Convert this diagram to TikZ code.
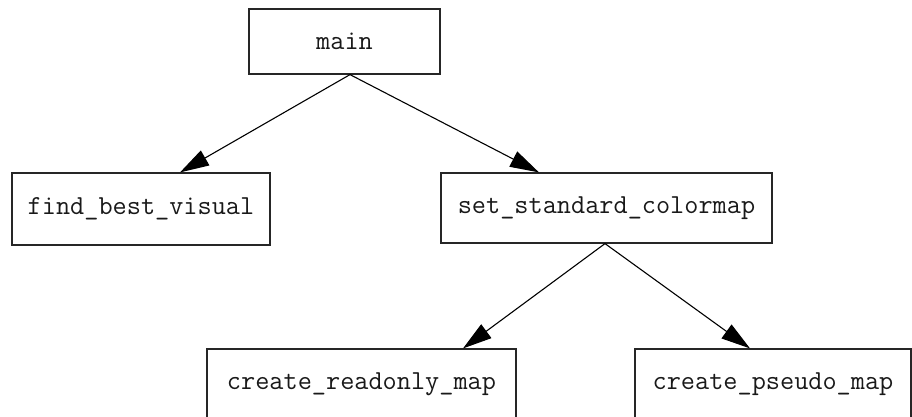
\documentclass[tikz,border=0pt]{standalone}
\usetikzlibrary{arrows.meta}
\begin{document}
\begin{tikzpicture}[x=1pt,y=-1pt,
  fn/.style={draw=black!85, line width=1.2pt, rectangle, inner sep=0pt,
    font=\ttfamily\fontsize{27.5}{30}\selectfont, text=black!90},
  call/.style={line width=1.1pt, -{Triangle[length=29pt,width=17pt]}}]
  \useasboundingbox (0,0) rectangle (912,416);

  \node[fn, minimum width=191pt, minimum height=65pt] (main) at (344.5,41.5) {main};
  \node[fn, minimum width=258pt, minimum height=72pt] (find) at (141,209) {find\_best\_visual};
  \node[fn, minimum width=331pt, minimum height=70pt] (setcm) at (606.5,208) {set\_standard\_colormap};
  \node[fn, minimum width=309pt, minimum height=70pt] (ro) at (361.5,384) {create\_readonly\_map};
  \node[fn, minimum width=276pt, minimum height=70pt] (ps) at (773,384) {create\_pseudo\_map};

  \draw[call] ([xshift=5.5pt]main.south) -- ([xshift=39pt]find.north);
  \draw[call] ([xshift=5.5pt]main.south) -- ([xshift=-67.5pt]setcm.north);
  \draw[call] ([xshift=-1.5pt]setcm.south) -- ([xshift=101.5pt]ro.north);
  \draw[call] ([xshift=-1.5pt]setcm.south) -- ([xshift=-23pt]ps.north);
\end{tikzpicture}
\end{document}
